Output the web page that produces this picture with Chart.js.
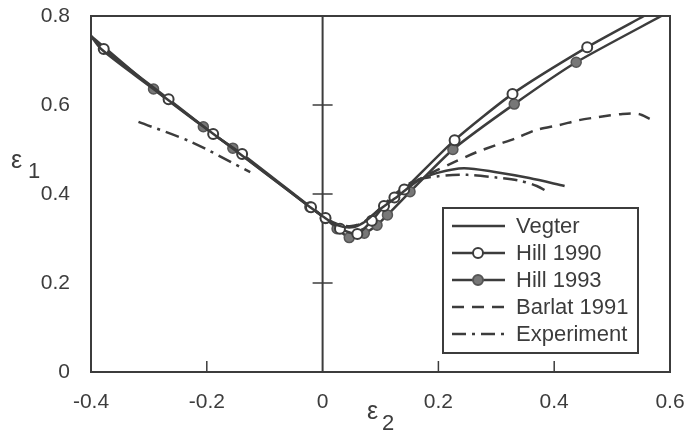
<!DOCTYPE html>
<html>
<head>
<meta charset="utf-8">
<script src="https://cdn.jsdelivr.net/npm/chart.js@4/dist/chart.umd.min.js"></script>
<style>
    html, body { margin: 0; padding: 0; background: #fff; }
</style>
</head>
<body>
<canvas id="strainChart" width="686" height="444"></canvas>
<script>
// forming limit curves, eps2 (minor strain) vs eps1 (major strain)
const vegterE2 = [-0.4, -0.381, -0.292, -0.2, -0.1, -0.022, 0.0, 0.025, 0.05, 0.07, 0.095, 0.13, 0.165, 0.2, 0.244, 0.30, 0.357, 0.418];
const vegterE1 = [0.755, 0.724, 0.636, 0.546, 0.448, 0.371, 0.35, 0.33, 0.325, 0.335, 0.362, 0.395, 0.43, 0.448, 0.458, 0.449, 0.436, 0.418];

const hill90E2 = [-0.4, -0.378, -0.266, -0.189, -0.139, -0.02, 0.005, 0.03, 0.06, 0.085, 0.106, 0.124, 0.141, 0.228, 0.328, 0.457, 0.555];
const hill90E1 = [0.754, 0.726, 0.613, 0.535, 0.49, 0.37, 0.346, 0.322, 0.31, 0.34, 0.373, 0.392, 0.41, 0.521, 0.625, 0.73, 0.8];

const hill93E2 = [-0.4, -0.292, -0.206, -0.155, -0.022, 0.005, 0.025, 0.046, 0.072, 0.094, 0.112, 0.151, 0.225, 0.331, 0.438, 0.585];
const hill93E1 = [0.755, 0.636, 0.551, 0.503, 0.371, 0.345, 0.322, 0.302, 0.312, 0.33, 0.353, 0.405, 0.50, 0.602, 0.696, 0.8];

const barlatE2 = [-0.02, 0.0, 0.025, 0.05, 0.075, 0.1, 0.13, 0.16, 0.195, 0.228, 0.266, 0.30, 0.335, 0.369, 0.409, 0.443, 0.477, 0.518, 0.546, 0.565];
const barlatE1 = [0.37, 0.35, 0.333, 0.328, 0.34, 0.368, 0.402, 0.428, 0.452, 0.472, 0.494, 0.51, 0.526, 0.544, 0.555, 0.566, 0.573, 0.58, 0.58, 0.569];

// experiment has two separate branches (null = gap)
const expE2 = [-0.318, -0.227, -0.125, 0, 0.04, 0.06, 0.08, 0.105, 0.13, 0.16, 0.2, 0.25, 0.3, 0.34, 0.37, 0.39];
const expE1 = [0.562, 0.517, 0.449, null, 0.326, 0.33, 0.345, 0.375, 0.405, 0.43, 0.44, 0.443, 0.437, 0.43, 0.418, 0.404];

const xTicks = [-0.4, -0.2, 0, 0.2, 0.4, 0.6];
const yTicks = [0, 0.2, 0.4, 0.6, 0.8];

const ink = '#3c3c3c';
const fontFam = '"Liberation Sans", Arial, sans-serif';

function pts(xs, ys) {
    return xs.map((x, i) => ({ x: x, y: ys[i] }));
}

// markers on every point except the curve ends
function innerRadius(ctx) {
    const n = ctx.dataset.data.length;
    return (ctx.dataIndex === 0 || ctx.dataIndex === n - 1) ? 0 : 5;
}

const framePlugin = {
    id: 'frame',
    beforeDatasetsDraw(chart) {
        const { ctx, chartArea: a, scales } = chart;
        const x0 = scales.x.getPixelForValue(0);
        ctx.save();
        ctx.strokeStyle = ink;
        ctx.lineWidth = 2;
        ctx.strokeRect(a.left, a.top, a.right - a.left, a.bottom - a.top);
        // zero line
        ctx.beginPath();
        ctx.moveTo(x0, a.top);
        ctx.lineTo(x0, a.bottom);
        ctx.stroke();
        ctx.lineWidth = 1.5;
        // crossing ticks on zero line
        yTicks.forEach(v => {
            if (v === 0 || v === 0.8) return;
            const py = scales.y.getPixelForValue(v);
            ctx.beginPath();
            ctx.moveTo(x0 - 10, py);
            ctx.lineTo(x0 + 10, py);
            ctx.stroke();
        });
        // inner ticks on bottom axis
        xTicks.forEach(v => {
            if (v === 0 || v === -0.4 || v === 0.6) return;
            const px = scales.x.getPixelForValue(v);
            ctx.beginPath();
            ctx.moveTo(px, a.bottom);
            ctx.lineTo(px, a.bottom - 11);
            ctx.stroke();
        });
        ctx.restore();
    },
    afterDraw(chart) {
        const { ctx } = chart;
        ctx.save();
        ctx.fillStyle = ink;
        ctx.textBaseline = 'alphabetic';
        // axis titles with subscripts
        ctx.font = '25px ' + fontFam;
        ctx.fillText('ε', 11, 168);
        ctx.fillText('ε', 367, 419);
        ctx.font = '22px ' + fontFam;
        ctx.fillText('1', 28, 178);
        ctx.fillText('2', 382, 430);

        // legend box
        const bx = 443, by = 208, bw = 195, bh = 145;
        ctx.fillStyle = '#fff';
        ctx.fillRect(bx, by, bw, bh);
        ctx.strokeStyle = ink;
        ctx.lineWidth = 2;
        ctx.strokeRect(bx, by, bw, bh);
        ctx.font = '22px ' + fontFam;
        ctx.textBaseline = 'middle';
        chart.data.datasets.forEach((ds, i) => {
            const y = 226 + i * 27;
            ctx.strokeStyle = ds.borderColor;
            ctx.lineWidth = ds.borderWidth;
            ctx.setLineDash(ds.borderDash || []);
            ctx.beginPath();
            ctx.moveTo(452, y);
            ctx.lineTo(505, y);
            ctx.stroke();
            ctx.setLineDash([]);
            if (ds.legendMarker) {
                ctx.beginPath();
                ctx.arc(478, y, 5, 0, Math.PI * 2);
                ctx.fillStyle = ds.pointBackgroundColor;
                ctx.fill();
                ctx.lineWidth = 2;
                ctx.strokeStyle = ds.pointBorderColor;
                ctx.stroke();
            }
            ctx.fillStyle = ink;
            ctx.fillText(ds.label, 516, y + 1);
        });
        ctx.restore();
    }
};

const ctx = document.getElementById('strainChart').getContext('2d');
const strainChart = new Chart(ctx, {
    type: 'line',
    data: {
        datasets: [{
            label: 'Vegter',
            data: pts(vegterE2, vegterE1),
            borderColor: ink,
            borderWidth: 2.5,
            pointRadius: 0,
            tension: 0.3
        }, {
            label: 'Hill 1990',
            data: pts(hill90E2, hill90E1),
            borderColor: ink,
            borderWidth: 2.5,
            pointRadius: innerRadius,
            pointBackgroundColor: '#fff',
            pointBorderColor: ink,
            pointBorderWidth: 2,
            legendMarker: true,
            tension: 0.2
        }, {
            label: 'Hill 1993',
            data: pts(hill93E2, hill93E1),
            borderColor: ink,
            borderWidth: 2.5,
            pointRadius: innerRadius,
            pointBackgroundColor: '#777',
            pointBorderColor: '#555',
            pointBorderWidth: 1.5,
            legendMarker: true,
            tension: 0.2
        }, {
            label: 'Barlat 1991',
            data: pts(barlatE2, barlatE1),
            borderColor: ink,
            borderWidth: 2.5,
            borderDash: [12, 8],
            pointRadius: 0,
            tension: 0.3
        }, {
            label: 'Experiment',
            data: pts(expE2, expE1),
            borderColor: ink,
            borderWidth: 2.5,
            borderDash: [14, 6, 3, 6],
            pointRadius: 0,
            spanGaps: false,
            tension: 0.3
        }]
    },
    options: {
        responsive: false,
        animation: false,
        layout: { padding: { top: 16, right: 16, left: 0, bottom: 0 } },
        plugins: {
            legend: { display: false },
            tooltip: { enabled: false }
        },
        scales: {
            x: {
                type: 'linear',
                min: -0.4,
                max: 0.6,
                grid: { display: false, drawTicks: false },
                border: { display: false },
                afterBuildTicks: axis => { axis.ticks = xTicks.map(v => ({ value: v })); },
                afterFit: axis => {
                    axis.height = 72;
                    axis.paddingLeft = 0;
                    axis.paddingRight = 0;
                },
                ticks: {
                    color: ink,
                    padding: 18,
                    maxRotation: 0,
                    font: { size: 21, family: fontFam },
                    callback: v => String(Math.round(v * 10) / 10)
                }
            },
            y: {
                type: 'linear',
                min: 0,
                max: 0.8,
                grid: { display: false, drawTicks: false },
                border: { display: false },
                afterBuildTicks: axis => { axis.ticks = yTicks.map(v => ({ value: v })); },
                afterFit: axis => {
                    axis.width = 91;
                    axis.paddingTop = 0;
                    axis.paddingBottom = 0;
                },
                ticks: {
                    color: ink,
                    padding: 21,
                    font: { size: 21, family: fontFam },
                    callback: v => String(Math.round(v * 10) / 10)
                }
            }
        }
    },
    plugins: [framePlugin]
});
</script>
</body>
</html>
